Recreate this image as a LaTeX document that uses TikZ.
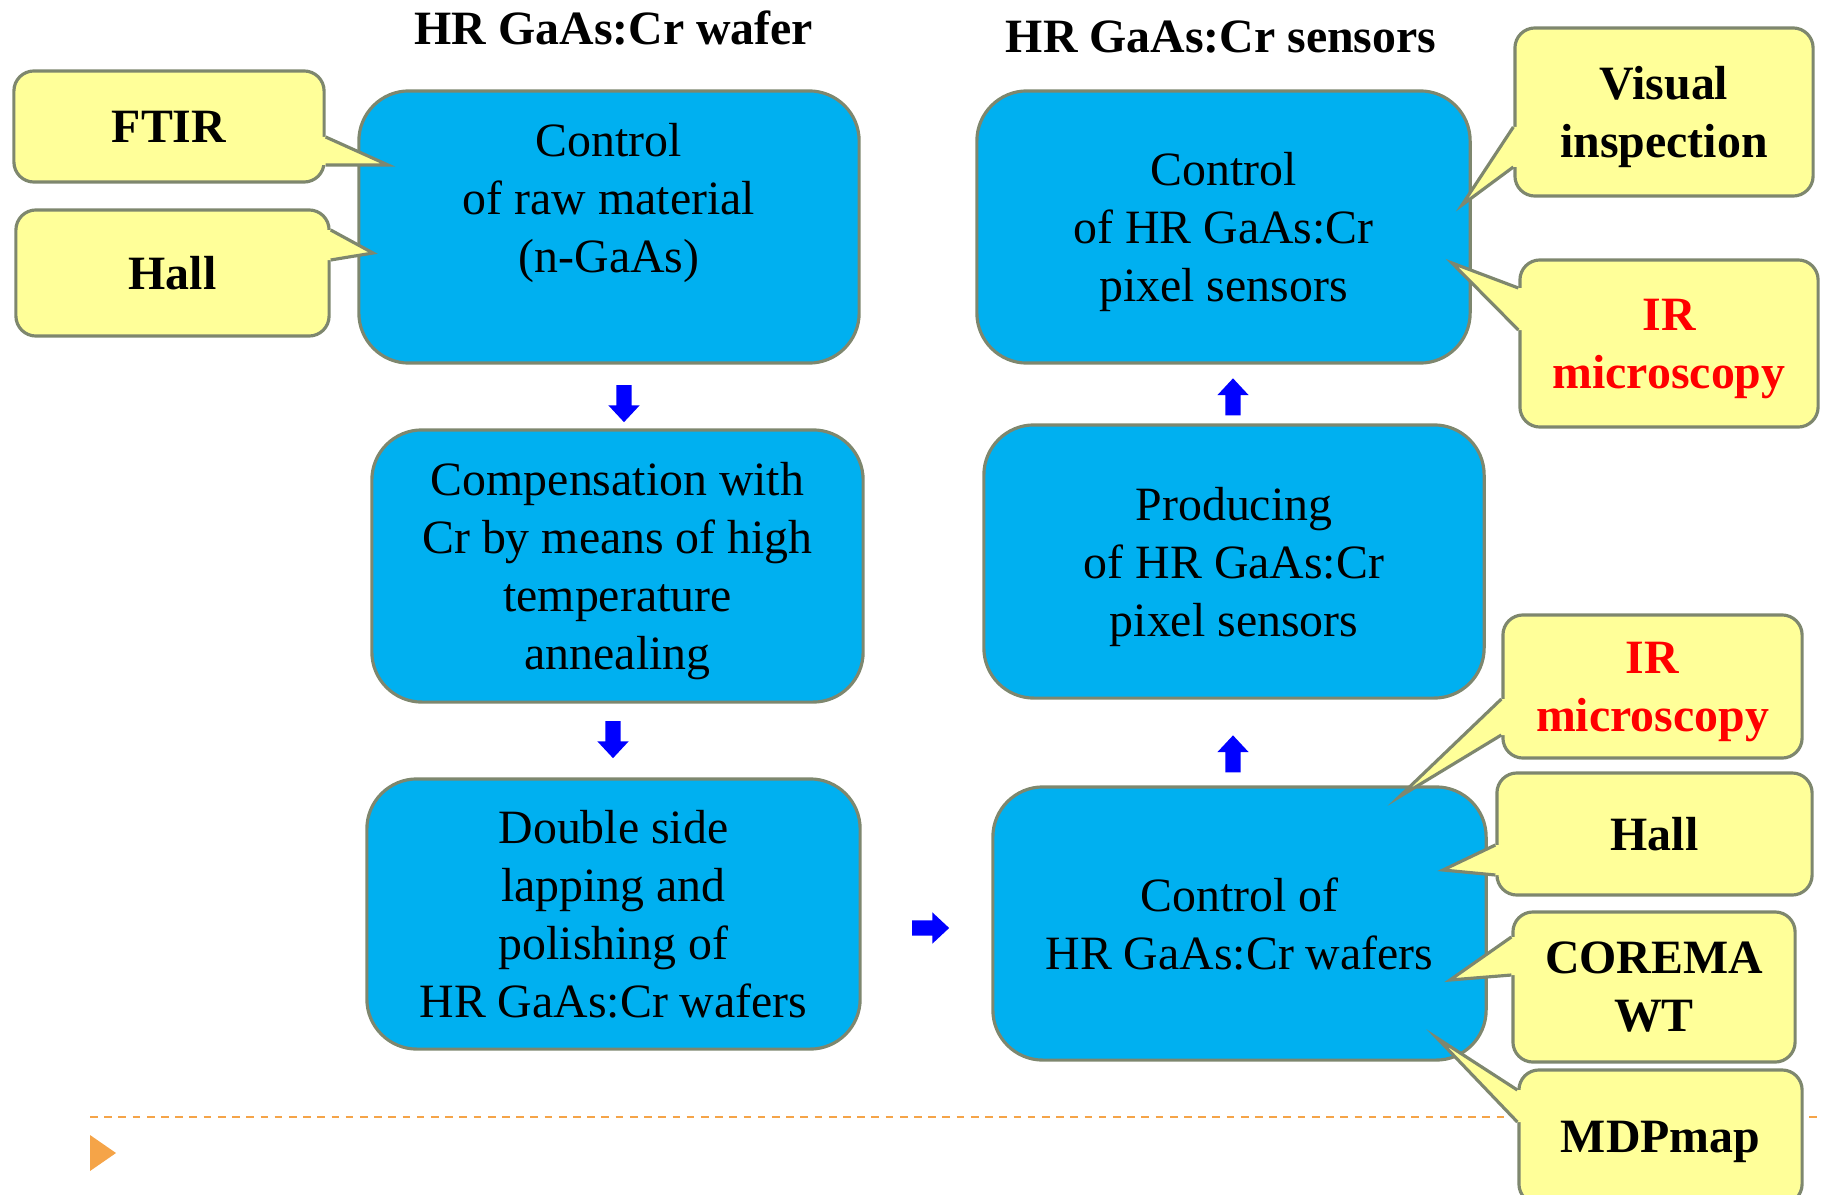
\documentclass[tikz,border=0pt]{standalone}
\usepackage{fontspec}
\setmainfont{Liberation Serif}
\usetikzlibrary{shapes.arrows,calc}

\definecolor{boxblue}{RGB}{0,176,240}
\definecolor{edgegray}{RGB}{126,135,110}
\definecolor{callyellow}{RGB}{255,255,153}
\definecolor{dashorange}{RGB}{245,164,72}
\definecolor{irred}{RGB}{255,0,0}

\tikzset{
	stage/.style={draw=edgegray,line width=0.9pt,fill=boxblue,rounded corners=0.5cm,align=center,inner sep=0pt,text depth=-2pt,font=\fontsize{13.6}{16.5}\selectfont},
	method/.style={draw=edgegray,line width=0.9pt,fill=callyellow,rounded corners=0.2cm,align=center,inner sep=0pt,text depth=-2pt,font=\fontsize{13.6}{16.5}\selectfont\bfseries},
	heading/.style={font=\fontsize{13.6}{16.5}\selectfont\bfseries},
	flow/.style={single arrow,fill=blue,draw=none,inner xsep=0pt,inner ysep=0.07cm,minimum height=0.37cm,single arrow head extend=0.08cm,single arrow tip angle=86}
}

% pointer of a callout: side anchor, base y1, base y2, tip, inward shift
\newcommand{\pointer}[5]{%
	\fill[callyellow] ($(#1 |- 0,#2)+(#5,0)$) -- (#1 |- 0,#2) -- (#4) -- (#1 |- 0,#3) -- ($(#1 |- 0,#3)+(#5,0)$) -- cycle;
	\draw[edgegray,line width=0.9pt,line join=miter] (#1 |- 0,#2) -- (#4) -- (#1 |- 0,#3);
}

\begin{document}
\begin{tikzpicture}[x=0.01cm,y=-0.01cm]
	\useasboundingbox (0,0) rectangle (1822,1194);
	\clip (0,0) rectangle (1822,1194);
	\draw[dashorange,line width=0.65pt,dash pattern=on 0.077cm off 0.065cm] (90,1117) -- (1822,1117);
	\fill[dashorange] (90,1135) -- (116,1153) -- (90,1171) -- cycle;

	\node[heading] (wafertitle) at (614,28) {HR GaAs:Cr wafer};
	\node[heading] (sensortitle) at (1221,37) {HR GaAs:Cr sensors};

	\node[stage,minimum width=5cm,minimum height=2.72cm] (raw) at (609,227) {Control\\of raw material\\(n-GaAs)\\\strut};
	\node[stage,minimum width=4.91cm,minimum height=2.72cm] (comp) at (617.5,566) {Compensation with\\Cr by means of high\\temperature\\annealing};
	\node[stage,minimum width=4.93cm,minimum height=2.70cm] (lap) at (613.5,914) {Double side\\lapping and\\polishing of\\HR GaAs:Cr wafers};
	\node[stage,minimum width=4.93cm,minimum height=2.73cm] (ctrlwafer) at (1239.5,923.5) {Control of\\HR GaAs:Cr wafers};
	\node[stage,minimum width=5cm,minimum height=2.73cm] (prod) at (1234,561.5) {Producing\\of HR GaAs:Cr\\pixel sensors};
	\node[stage,minimum width=4.93cm,minimum height=2.72cm] (ctrlsensor) at (1223.5,227) {Control\\of HR GaAs:Cr\\pixel sensors};

	\node[flow,rotate=-90] (arrowa) at (624,399.5) {};
	\node[flow,rotate=-90] (arrowb) at (613,735.5) {};
	\node[flow] (arrowc) at (926.5,928) {};
	\node[flow,rotate=90] (arrowd) at (1233,758) {};
	\node[flow,rotate=90] (arrowe) at (1233,401) {};

	\node[method,minimum width=3.10cm,minimum height=1.11cm,text depth=-4pt] (ftir) at (169,126.5) {FTIR};
	\node[method,minimum width=3.13cm,minimum height=1.26cm,text depth=-4pt] (hallwafer) at (172.5,273) {Hall};
	\node[method,minimum width=2.98cm,minimum height=1.68cm] (visual) at (1664,112) {Visual\\inspection};
	\node[method,minimum width=2.98cm,minimum height=1.67cm,text=irred] (irsensor) at (1669,343.5) {IR\\microscopy};
	\node[method,minimum width=2.99cm,minimum height=1.43cm,text=irred] (irwafer) at (1652.5,686.5) {IR\\microscopy};
	\node[method,minimum width=3.15cm,minimum height=1.22cm,text depth=-4pt] (hallsensor) at (1654.5,834) {Hall};
	\node[method,minimum width=2.82cm,minimum height=1.50cm] (corema) at (1654,987) {COREMA\\WT};
	\node[method,minimum width=2.83cm,minimum height=1.34cm] (mdp) at (1660.5,1137) {MDPmap};

	\coordinate (ftirtip) at (388,165);
	\coordinate (hallwafertip) at (373,253);
	\coordinate (visualtip) at (1462,205);
	\coordinate (irsensortip) at (1452,263);
	\coordinate (irwafertip) at (1399,797);
	\coordinate (hallsensortip) at (1443,870);
	\coordinate (crematip) at (1450,980);
	\coordinate (mdptip) at (1437,1038);

	\pointer{ftir.east}{137}{165}{ftirtip}{-4}
	\pointer{hallwafer.east}{230}{260}{hallwafertip}{-4}
	\pointer{visual.west}{127}{167}{visualtip}{4}
	\pointer{irsensor.west}{288}{330}{irsensortip}{4}
	\pointer{irwafer.west}{699}{735}{irwafertip}{4}
	\pointer{hallsensor.west}{845}{875}{hallsensortip}{4}
	\pointer{corema.west}{937}{975}{crematip}{4}
	\pointer{mdp.west}{1090}{1122}{mdptip}{4}
\end{tikzpicture}
\end{document}
